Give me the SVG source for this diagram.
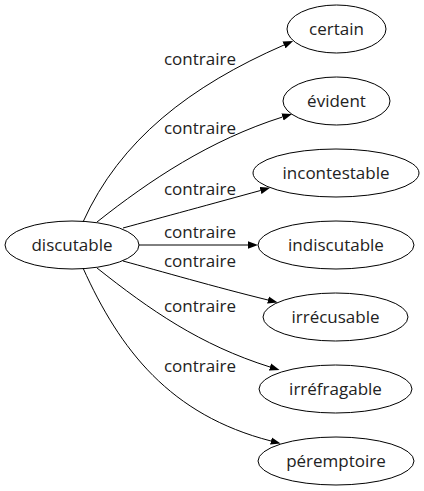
<svg xmlns="http://www.w3.org/2000/svg" width="424" height="491" viewBox="0 0 424 491">
<style>
.n ellipse{fill:none;stroke:#000;stroke-width:1}
text{font-family:"Open Sans","DejaVu Sans",sans-serif;font-size:17px;fill:#222;text-anchor:middle}
.e path{fill:none;stroke:#000;stroke-width:1}
</style>
<defs>
<marker id="arr" markerWidth="10" markerHeight="8" refX="0" refY="4" orient="auto" markerUnits="userSpaceOnUse">
<path d="M0,0.3 L10,4 L0,7.7 z" fill="#000"/>
</marker>
</defs>
<rect width="424" height="491" fill="#fff"/>
<g id="edges" class="e">
<path d="M83,222 C120,140 190,86 284,45" marker-end="url(#arr)"/>
<path d="M97,222 C150,180 210,140 282.5,117" marker-end="url(#arr)"/>
<path d="M123,228 C160,218 215,203 260.5,190.5" marker-end="url(#arr)"/>
<path d="M139,245 L248,245" marker-end="url(#arr)"/>
<path d="M123,261 C160,271 215,287 268,300" marker-end="url(#arr)"/>
<path d="M97,268 C150,310 200,345 270,367" marker-end="url(#arr)"/>
<path d="M83,268 C120,350 170,415 271,441" marker-end="url(#arr)"/>
<text x="200" y="65">contraire</text>
<text x="200" y="134">contraire</text>
<text x="200" y="195">contraire</text>
<text x="200" y="238">contraire</text>
<text x="200" y="267">contraire</text>
<text x="200" y="312">contraire</text>
<text x="200" y="372">contraire</text>
</g>
<g id="discutable" class="n"><ellipse cx="72" cy="245" rx="67" ry="24"/><text x="72" y="250.5">discutable</text></g>
<g id="certain" class="n"><ellipse cx="336.5" cy="29" rx="49.5" ry="24"/><text x="336.5" y="34.5">certain</text></g>
<g id="evident" class="n"><ellipse cx="336.5" cy="101" rx="53.5" ry="24"/><text x="336.5" y="106.5">évident</text></g>
<g id="incontestable" class="n"><ellipse cx="336" cy="173" rx="83" ry="24"/><text x="336" y="178.5">incontestable</text></g>
<g id="indiscutable" class="n"><ellipse cx="336" cy="245" rx="78" ry="24"/><text x="336" y="250.5">indiscutable</text></g>
<g id="irrecusable" class="n"><ellipse cx="335.5" cy="317" rx="72.5" ry="24"/><text x="335.5" y="322.5">irrécusable</text></g>
<g id="irrefragable" class="n"><ellipse cx="335.5" cy="389" rx="76.5" ry="24"/><text x="335.5" y="394.5">irréfragable</text></g>
<g id="peremptoire" class="n"><ellipse cx="336" cy="461" rx="78" ry="24"/><text x="336" y="466.5">péremptoire</text></g>
</svg>
